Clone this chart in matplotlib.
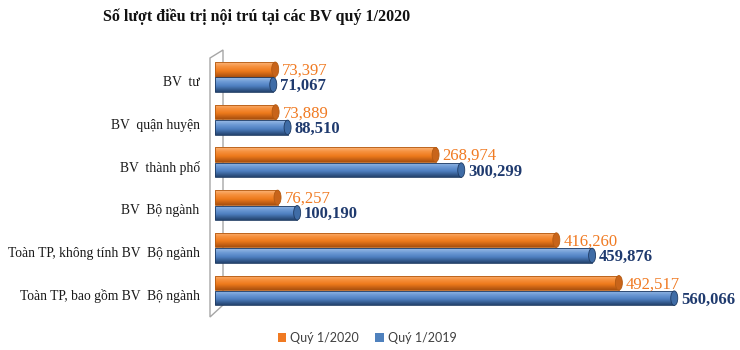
import numpy as np
import matplotlib
matplotlib.use("Agg")
import matplotlib.pyplot as plt
from matplotlib.colors import LinearSegmentedColormap
from matplotlib.patches import Ellipse, Polygon, Rectangle

# Inpatient treatment counts by hospital group
categories = [
    "BV  tư",
    "BV  quận huyện",
    "BV  thành phố",
    "BV  Bộ ngành",
    "Toàn TP, không tính BV  Bộ ngành",
    "Toàn TP, bao gồm BV  Bộ ngành",
]
q1_2020 = [73397, 73889, 268974, 76257, 416260, 492517]
q1_2019 = [71067, 88510, 300299, 100190, 459876, 560066]
series_names = ["Quý 1/2020", "Quý 1/2019"]
title = "Số lượt điều trị nội trú tại các BV quý 1/2020"

W, H = 740, 350
fig = plt.figure(figsize=(W / 100, H / 100), dpi=100)
fig.patch.set_facecolor("white")

ax_left, ax_right, ax_top, ax_bottom = 215, 707, 50, 312
ax = fig.add_axes([ax_left / W, 1 - ax_bottom / H,
                   (ax_right - ax_left) / W, (ax_bottom - ax_top) / H])
ax.set_facecolor("none")
XMAX = 600000
YLIM = (5.504, -0.632)

# cylinder shading (light top -> dark bottom)
orange_cmap = LinearSegmentedColormap.from_list(
    "org", [(0, "#FBB57A"), (0.3, "#F6913E"), (0.6, "#EE7A1C"), (1, "#A9500F")])
blue_cmap = LinearSegmentedColormap.from_list(
    "blu", [(0, "#9DBDE6"), (0.3, "#6E9BD6"), (0.6, "#4E7FC0"), (1, "#24436E")])

grad = np.linspace(0, 1, 64).reshape(-1, 1)
bar_h = 0.34
offset = 0.18
px_per_unit = (ax_right - ax_left) / XMAX
cap_w = 7 / px_per_unit

series = [
    (q1_2020, -offset, orange_cmap, "#C8641A", "#B35A12", "#F07A22", "normal"),
    (q1_2019, offset, blue_cmap, "#3F6CA6", "#1F3B63", "#1F3A6E", "bold"),
]

y = np.arange(len(categories))
for vals, off, cmap, cap_col, edge_col, lab_col, weight in series:
    bars = ax.barh(y + off, vals, height=bar_h, color="none",
                   edgecolor=edge_col, linewidth=0.6, zorder=3)
    for rect, v, yc in zip(bars, vals, y + off):
        im = ax.imshow(grad, cmap=cmap, aspect="auto", origin="upper",
                       extent=(0, v, yc + bar_h / 2, yc - bar_h / 2),
                       zorder=2, interpolation="bilinear")
        im.set_clip_path(rect)
        ax.add_patch(Ellipse((v, yc), cap_w, bar_h, facecolor=cap_col,
                             edgecolor=edge_col, linewidth=0.6, zorder=4))
        ax.annotate(f"{v:,}", (v, yc), xytext=(5, -1),
                    textcoords="offset points", ha="left", va="center",
                    family="Liberation Serif", fontsize=12,
                    color=lab_col, weight=weight, zorder=5)

ax.set_xlim(0, XMAX)
ax.set_ylim(*YLIM)
ax.set_xticks([])
ax.set_yticks(y + 0.1)
ax.set_yticklabels(categories, family="Liberation Serif", fontsize=9.8,
                   color="#1a1a1a")
ax.tick_params(axis="y", length=0, pad=11)
for s in ax.spines.values():
    s.set_visible(False)


# thin 3D side wall behind the bars
def fpx(x, y_):
    return (x / W, 1 - y_ / H)


wall = Polygon([fpx(210, 58), fpx(223, 50), fpx(223, 305), fpx(210, 317)],
               closed=True, facecolor="none", edgecolor="#A6A6A6",
               linewidth=1.0, transform=fig.transFigure, zorder=0)
ax.add_artist(wall)
wall.set_clip_on(False)
wall.set_zorder(1)

fig.text(257 / W, 1 - 17 / H, title, ha="center", va="center",
         family="Liberation Serif", weight="bold", fontsize=11.5, color="#111111")

handles = [Rectangle((0, 0), 1, 1, facecolor="#F07A22"),
           Rectangle((0, 0), 1, 1, facecolor="#4F81BD")]
fig.legend(handles, series_names, loc="center",
           bbox_to_anchor=(367 / W, 1 - 338 / H), ncol=2, frameon=False,
           prop={"family": "Lato", "size": 9}, labelcolor="#404040",
           handlelength=0.7, handleheight=0.7, handletextpad=0.3,
           columnspacing=1.3)

fig.savefig("out.png", dpi=100, facecolor="white")
